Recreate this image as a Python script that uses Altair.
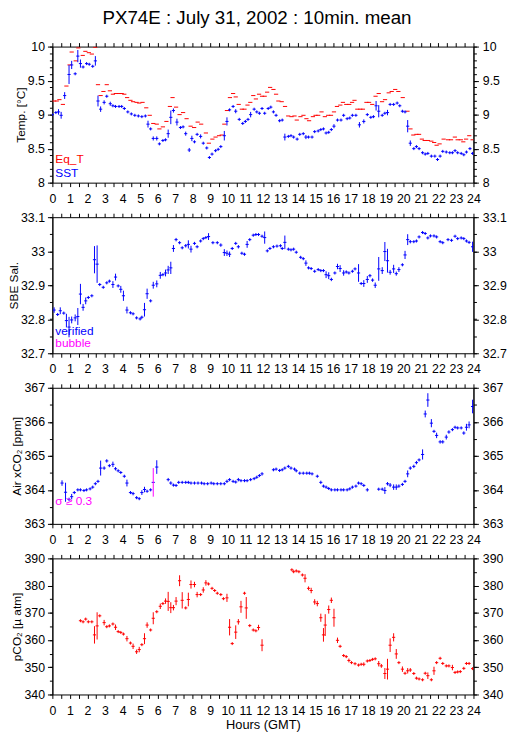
import altair as alt
import pandas as pd

FONT = "Liberation Sans"
RED, BLUE, MAG = "#ff0000", "#0000ff", "#ff00ff"

TITLE = "PX74E : July 31, 2002 : 10min. mean"
HOURS = [i * 0.5 for i in range(49)]

# ---------------- data (hour, value, half error bar) ----------------
sst = [(0.0,9.00,0),(0.2,9.03,0),(0.35,9.04,0.04),(0.5,8.99,0.05),(0.7,9.28,0.05),(0.95,9.59,0.14),(1.1,9.73,0.06),(1.3,9.60,0),(1.45,9.86,0.09),(1.6,9.75,0.06),(1.75,9.70,0),(1.95,9.75,0),(2.1,9.74,0),(2.3,9.71,0),(2.45,9.79,0.07),(2.6,9.20,0.08),(2.75,9.08,0.04),(2.95,9.18,0.03),(3.1,9.27,0),(3.3,9.16,0.03),(3.45,9.13,0),(3.6,9.12,0.02),(3.8,9.12,0),(3.95,9.12,0),(4.1,9.09,0),(4.3,9.04,0.02),(4.5,9.01,0),(4.7,8.99,0),(4.9,8.98,0),(5.1,8.97,0),(5.3,8.98,0),(5.45,8.86,0.05),(5.6,8.79,0),(5.75,8.65,0.03),(5.95,8.65,0.03),(6.1,8.57,0.02),(6.3,8.62,0),(6.45,8.63,0),(6.6,8.72,0.06),(6.75,8.96,0.1),(6.9,9.06,0.03),(7.1,8.89,0.05),(7.3,8.81,0),(7.45,8.82,0),(7.6,8.72,0.03),(7.8,8.48,0.03),(7.95,8.65,0.04),(8.1,8.60,0.02),(8.25,8.71,0),(8.45,8.68,0.03),(8.6,8.58,0.02),(8.8,8.51,0.02),(8.95,8.37,0.02),(9.1,8.42,0),(9.3,8.47,0),(9.45,8.49,0),(9.6,8.53,0.02),(9.8,8.69,0.07),(9.95,8.90,0.06),(10.1,9.07,0),(10.3,9.12,0),(10.45,9.05,0.03),(10.65,8.93,0.02),(10.85,8.87,0.02),(11.0,8.90,0),(11.15,8.93,0),(11.3,9.00,0.04),(11.5,9.08,0),(11.65,9.04,0),(11.8,9.02,0),(11.95,9.09,0),(12.1,9.02,0.02),(12.3,9.09,0),(12.45,9.11,0.02),(12.6,9.04,0),(12.75,8.99,0),(12.95,8.91,0),(13.1,8.92,0),(13.25,8.67,0.05),(13.45,8.68,0),(13.6,8.69,0.02),(13.75,8.67,0),(13.95,8.64,0),(14.1,8.71,0),(14.3,8.72,0),(14.45,8.67,0.03),(14.6,8.67,0),(14.8,8.67,0),(14.95,8.75,0),(15.15,8.76,0),(15.3,8.78,0),(15.45,8.79,0),(15.6,8.73,0.02),(15.75,8.74,0),(15.9,8.78,0),(16.05,8.83,0.03),(16.25,8.92,0),(16.45,8.92,0),(16.6,8.99,0),(16.8,8.94,0.02),(16.95,8.95,0),(17.1,8.99,0),(17.3,8.99,0),(17.5,8.85,0.04),(17.75,8.90,0.03),(17.95,9.00,0),(18.15,8.96,0),(18.3,8.97,0),(18.45,9.13,0.07),(18.6,9.05,0.09),(18.8,8.99,0.02),(18.95,9.02,0),(19.1,9.03,0.04),(19.25,9.15,0),(19.45,9.15,0),(19.65,9.17,0),(19.8,9.13,0.02),(19.95,9.05,0),(20.1,9.04,0.02),(20.25,8.83,0.09),(20.4,8.58,0.04),(20.6,8.50,0),(20.75,8.53,0),(20.9,8.50,0),(21.1,8.44,0),(21.25,8.42,0),(21.4,8.43,0),(21.6,8.39,0),(21.8,8.39,0),(21.95,8.34,0.02),(22.1,8.39,0.02),(22.25,8.46,0),(22.45,8.45,0),(22.65,8.44,0),(22.8,8.44,0),(22.95,8.47,0),(23.1,8.44,0),(23.3,8.43,0),(23.45,8.41,0),(23.6,8.45,0),(23.8,8.50,0),(23.95,8.43,0.02)]

eq_t = [(0.1,9.20),(0.25,9.20),(0.4,9.22),(0.6,9.15),(0.8,9.42),(0.98,9.73),(1.1,9.92),(1.33,9.79),(1.48,9.98),(1.73,9.87),(1.88,9.93),(2.08,9.91),(2.25,9.89),(2.44,9.99),(2.6,9.44),(2.75,9.28),(2.91,9.34),(3.1,9.44),(3.28,9.35),(3.45,9.30),(3.62,9.31),(3.8,9.31),(3.95,9.31),(4.1,9.30),(4.26,9.25),(4.45,9.21),(4.6,9.19),(4.8,9.18),(4.95,9.17),(5.14,9.18),(5.35,9.10),(5.55,8.99),(5.75,8.87),(5.95,8.86),(6.1,8.79),(6.3,8.82),(6.5,8.90),(6.7,9.12),(6.85,9.25),(7.05,9.11),(7.25,9.00),(7.45,9.03),(7.65,8.94),(7.88,8.83),(8.08,8.81),(8.28,8.89),(8.48,8.86),(8.75,8.73),(8.92,8.58),(9.12,8.64),(9.3,8.67),(9.5,8.69),(9.65,8.70),(9.8,8.86),(9.95,9.06),(10.12,9.25),(10.3,9.31),(10.45,9.26),(10.62,9.15),(10.8,9.08),(10.95,9.08),(11.12,9.14),(11.28,9.18),(11.45,9.28),(11.6,9.23),(11.78,9.30),(11.95,9.27),(12.1,9.27),(12.24,9.33),(12.41,9.40),(12.6,9.37),(12.75,9.30),(12.88,9.20),(13.07,9.19),(13.26,9.12),(13.44,8.98),(13.63,8.97),(13.8,8.98),(13.93,8.92),(14.14,8.97),(14.31,8.99),(14.48,8.94),(14.63,8.91),(14.85,8.97),(15.0,8.99),(15.15,8.99),(15.34,9.04),(15.53,8.97),(15.72,8.99),(15.88,8.99),(16.05,9.04),(16.22,9.12),(16.41,9.14),(16.56,9.18),(16.75,9.15),(16.92,9.15),(17.08,9.18),(17.22,9.21),(17.38,9.08),(17.55,9.08),(17.7,9.08),(17.9,9.18),(18.05,9.18),(18.23,9.15),(18.42,9.27),(18.6,9.31),(18.79,9.19),(18.96,9.22),(19.17,9.32),(19.34,9.34),(19.54,9.37),(19.72,9.34),(19.97,9.25),(20.24,9.05),(20.41,8.79),(20.57,8.70),(20.75,8.71),(20.9,8.71),(21.06,8.64),(21.22,8.62),(21.4,8.62),(21.6,8.61),(21.76,8.59),(21.9,8.55),(22.07,8.57),(22.3,8.64),(22.55,8.63),(22.72,8.63),(22.94,8.67),(23.1,8.63),(23.28,8.63),(23.42,8.60),(23.58,8.64),(23.76,8.69),(23.95,8.63)]

sal = [(0.1,32.827,0.008),(0.3,32.814,0),(0.45,32.825,0.01),(0.65,32.818,0),(0.8,32.796,0.02),(0.95,32.777,0.03),(1.1,32.798,0.01),(1.3,32.804,0.01),(1.45,32.808,0.025),(1.6,32.874,0.03),(1.75,32.835,0.01),(1.9,32.854,0.01),(2.05,32.864,0),(2.25,32.869,0),(2.4,32.975,0.04),(2.55,32.962,0.055),(2.7,32.902,0),(2.9,32.894,0),(3.1,32.907,0),(3.25,32.912,0),(3.45,32.902,0.01),(3.6,32.924,0.01),(3.75,32.898,0),(3.9,32.888,0.01),(4.05,32.869,0.015),(4.25,32.827,0.01),(4.45,32.819,0),(4.6,32.816,0),(4.8,32.804,0),(5.0,32.801,0),(5.1,32.806,0),(5.25,32.828,0.02),(5.4,32.875,0.015),(5.6,32.854,0),(5.75,32.900,0.01),(5.95,32.904,0.01),(6.15,32.929,0.01),(6.3,32.931,0),(6.45,32.936,0.01),(6.6,32.945,0.012),(6.75,32.951,0.018),(6.9,33.008,0.01),(7.05,33.034,0.005),(7.25,33.025,0),(7.4,33.010,0),(7.6,33.016,0.005),(7.75,33.020,0.012),(7.9,33.006,0.01),(8.1,33.023,0),(8.25,33.013,0),(8.45,33.030,0),(8.6,33.037,0),(8.75,33.040,0),(8.9,33.043,0.01),(9.15,33.025,0),(9.4,33.025,0),(9.6,33.018,0.005),(9.8,32.996,0.01),(9.95,32.994,0.008),(10.1,32.991,0.008),(10.25,33.008,0),(10.45,33.023,0),(10.6,33.013,0.005),(10.8,32.994,0),(10.95,32.991,0),(11.1,33.020,0.01),(11.25,33.034,0),(11.45,33.047,0),(11.6,33.049,0),(11.75,33.049,0),(11.95,33.044,0),(12.1,33.040,0.018),(12.25,33.001,0),(12.4,33.008,0),(12.6,33.013,0),(12.8,33.015,0.004),(13.0,33.016,0.004),(13.1,33.008,0),(13.25,33.026,0.02),(13.45,33.006,0),(13.6,33.004,0),(13.75,33.006,0),(13.9,32.997,0),(14.15,32.982,0),(14.3,32.978,0),(14.45,32.965,0.008),(14.6,32.951,0),(14.75,32.949,0),(14.95,32.941,0),(15.15,32.946,0),(15.3,32.943,0),(15.45,32.943,0),(15.6,32.931,0.01),(15.75,32.928,0.01),(15.9,32.917,0.005),(16.1,32.936,0),(16.25,32.955,0.008),(16.4,32.949,0.01),(16.6,32.936,0.008),(16.75,32.939,0),(16.9,32.936,0),(17.1,32.941,0),(17.25,32.948,0.004),(17.45,32.936,0.026),(17.6,32.905,0),(17.75,32.905,0.01),(17.95,32.917,0.01),(18.1,32.928,0.005),(18.25,32.915,0.005),(18.4,32.900,0.008),(18.6,32.948,0.035),(18.8,32.943,0.01),(18.95,32.999,0.028),(19.1,32.972,0.035),(19.25,32.938,0.007),(19.45,32.948,0.012),(19.6,32.934,0.006),(19.75,32.946,0.007),(19.95,32.960,0),(20.1,32.989,0.012),(20.25,33.034,0.016),(20.4,33.028,0.005),(20.6,33.028,0),(20.75,33.030,0),(20.9,33.042,0),(21.1,33.055,0),(21.25,33.052,0),(21.4,33.039,0),(21.55,33.045,0),(21.75,33.045,0),(21.9,33.042,0.004),(22.1,33.028,0.004),(22.25,33.025,0),(22.55,33.034,0),(22.75,33.032,0.004),(22.95,33.044,0),(23.1,33.037,0),(23.3,33.039,0),(23.45,33.037,0),(23.6,33.030,0),(23.75,33.026,0.004),(23.95,33.013,0.015)]

air = [(0.55,364.20,0.08),(0.75,363.93,0.28),(0.95,363.72,0.05),(1.1,363.80,0.08),(1.25,363.92,0),(1.45,364.00,0),(1.6,364.00,0),(1.8,363.98,0),(1.95,364.00,0),(2.15,364.03,0),(2.3,364.08,0),(2.45,364.18,0),(2.6,364.25,0),(2.75,364.64,0.22),(2.95,364.64,0.05),(3.1,364.85,0.05),(3.25,364.71,0),(3.45,364.75,0.08),(3.6,364.62,0.05),(3.75,364.56,0),(3.9,364.51,0),(4.1,364.40,0),(4.25,364.20,0.1),(4.45,363.92,0),(4.6,363.89,0.05),(4.8,363.77,0),(4.95,363.74,0),(5.1,363.92,0.07),(5.25,364.01,0.08),(5.4,363.96,0),(5.6,364.00,0),(5.95,364.67,0.2),(6.6,364.30,0.05),(6.75,364.20,0.05),(6.9,364.14,0),(7.05,364.13,0),(7.2,364.22,0),(7.4,364.22,0),(7.6,364.22,0),(7.75,364.22,0),(7.9,364.20,0),(8.1,364.20,0),(8.3,364.20,0),(8.5,364.20,0),(8.65,364.18,0),(8.85,364.18,0),(9.05,364.20,0.04),(9.2,364.18,0),(9.4,364.18,0),(9.6,364.18,0),(9.8,364.18,0),(9.95,364.25,0.05),(10.1,364.30,0.04),(10.3,364.25,0),(10.45,364.23,0),(10.6,364.30,0.05),(10.75,364.27,0),(10.95,364.27,0),(11.1,364.27,0),(11.3,364.30,0),(11.5,364.33,0),(11.65,364.37,0),(11.8,364.42,0),(11.95,364.47,0.05),(12.6,364.59,0),(12.75,364.61,0),(12.95,364.57,0),(13.1,364.59,0),(13.25,364.64,0),(13.45,364.69,0),(13.6,364.64,0),(13.8,364.61,0),(13.9,364.56,0),(14.1,364.49,0),(14.3,364.49,0),(14.5,364.49,0),(14.65,364.49,0),(14.8,364.47,0),(15.1,364.40,0.04),(15.3,364.22,0.05),(15.45,364.11,0),(15.6,364.08,0),(15.75,364.04,0),(15.9,364.00,0),(16.1,364.00,0),(16.25,364.00,0),(16.45,364.00,0),(16.6,364.00,0),(16.8,364.00,0),(16.95,364.03,0),(17.1,364.08,0),(17.3,364.11,0.04),(17.45,364.20,0),(17.6,364.18,0),(17.75,364.13,0.04),(17.95,364.00,0.05),(18.6,364.02,0),(18.8,364.02,0),(18.95,363.98,0.1),(19.1,364.18,0.05),(19.25,364.14,0.06),(19.45,364.08,0.08),(19.6,364.08,0.08),(19.75,364.11,0.05),(19.95,364.16,0),(20.1,364.25,0),(20.25,364.47,0.1),(20.4,364.64,0.05),(20.6,364.69,0.05),(20.75,364.80,0.05),(20.9,364.88,0),(21.1,365.04,0.15),(21.25,366.23,0.1),(21.4,366.64,0.2),(21.6,365.96,0.12),(21.75,365.72,0.03),(21.9,365.60,0.08),(22.1,365.41,0.05),(22.25,365.41,0.05),(22.45,365.55,0.07),(22.6,365.70,0.05),(22.8,365.77,0),(22.95,365.84,0),(23.1,365.82,0),(23.3,365.82,0),(23.45,365.67,0.05),(23.6,365.84,0.1),(23.75,365.91,0.1),(23.95,366.45,0.2)]

air_sigma = [(5.75,364.22,0.42)]

pco2 = [(1.6,367.1,0.5),(1.75,366.7,0),(1.9,367.7,0),(2.05,366.7,0),(2.25,366.7,0),(2.4,361.9,3.2),(2.55,365.2,5),(2.7,368.9,0.5),(2.95,366.4,1),(3.1,364.9,0),(3.25,365.2,0),(3.45,365.9,0.5),(3.6,364.7,1),(3.75,363.1,0),(3.9,362.8,0),(4.05,362.2,0),(4.25,360.5,1),(4.45,358.9,0),(4.6,357.7,1),(4.8,355.7,0.8),(4.95,356.5,1),(5.1,358.3,0),(5.25,360.5,2),(5.4,365.5,1),(5.6,363.7,0),(5.75,368.0,2.2),(5.95,370.4,0.5),(6.15,372.4,1),(6.3,373.4,0),(6.45,374.3,1),(6.6,374.2,3.5),(6.75,371.9,2),(6.9,371.9,1),(7.05,374.3,1.5),(7.25,381.8,2),(7.4,374.6,3),(7.6,371.8,0),(7.75,374.9,2.5),(7.9,380.4,1.5),(8.1,380.4,1),(8.25,376.7,1),(8.45,376.7,0.5),(8.6,378.4,1),(8.75,381.0,1),(8.9,380.6,0.5),(9.1,379.0,0),(9.25,378.2,0),(9.4,377.2,0),(9.6,376.7,0),(9.75,375.2,0.5),(9.95,375.5,1.5),(10.1,364.7,3),(10.25,358.7,0),(10.45,362.9,2.5),(10.6,366.7,1),(10.75,372.2,2.2),(10.95,377.2,0.5),(11.05,371.8,4),(11.25,365.3,0),(11.45,363.7,0),(11.6,363.4,0),(11.75,364.6,1),(11.95,358.1,2.2),(13.65,385.8,0),(13.75,385.1,0),(13.9,385.4,0),(14.05,385.1,0),(14.25,383.9,0.5),(14.4,382.7,1.5),(14.6,379.0,0.7),(14.75,378.2,1),(14.95,374.0,1),(15.1,373.4,1),(15.3,368.2,1.5),(15.45,361.9,2.5),(15.55,365.5,4),(15.75,371.2,1.5),(15.9,374.6,1),(16.05,368.2,3.3),(16.25,359.9,1),(16.4,357.7,0),(16.6,354.3,0),(16.75,353.9,0),(16.9,352.5,0.7),(17.05,351.7,0),(17.25,351.3,0),(17.45,350.8,0.5),(17.6,351.1,0),(17.75,351.1,0.7),(17.95,352.3,0),(18.1,352.5,0),(18.25,352.9,0),(18.4,353.1,0.5),(18.6,351.3,1),(18.75,350.5,0.7),(18.95,347.7,2),(19.1,349.3,3.8),(19.25,358.1,2.5),(19.45,361.0,1.5),(19.6,354.9,1.8),(19.75,351.7,0.5),(19.95,349.3,1),(20.1,347.8,0.5),(20.25,348.7,1),(20.4,349.0,0.7),(20.6,347.7,0.5),(20.75,346.0,0),(20.9,345.7,0),(21.1,345.4,0),(21.25,347.8,0.5),(21.4,346.9,1.2),(21.6,345.4,0),(21.75,348.7,1.5),(21.9,351.7,0.5),(22.1,353.3,0.5),(22.25,351.4,0),(22.45,350.5,0),(22.6,350.5,0),(22.8,349.9,1),(22.95,348.1,0),(23.1,348.3,0),(23.25,348.4,0.5),(23.45,349.6,0.5),(23.6,351.4,0.5),(23.75,351.4,0.5),(23.95,349.5,0)]

# ---------------- helpers ----------------
W, H = 427, 138
XS = alt.Scale(domain=[0, 24], nice=False, zero=False)


def frame(rows, stub, hw):
    df = pd.DataFrame(rows, columns=["t", "v", "e"][: len(rows[0])])
    if "e" not in df:
        df["e"] = 0.0
    e = df["e"].clip(lower=stub)
    df["lo"] = df["v"] - e
    df["hi"] = df["v"] + e
    df["x0"] = df["t"] - hw
    df["x1"] = df["t"] + hw
    return df


def x_axis(orient, xtitle=None):
    kw = dict(orient=orient, values=HOURS, tickSize=4, tickColor="black",
              domainColor="black", grid=False, labelFlush=False, labelOverlap=False,
              labelBound=False, title=xtitle)
    if orient == "bottom":
        kw.update(labelExpr="datum.value % 1 == 0 ? format(datum.value, 'd') : ''",
                  labelFont=FONT, labelFontSize=12.5, labelColor="black",
                  labelPadding=6, labelAngle=0)
        if xtitle:
            kw.update(titleFont=FONT, titleFontSize=13, titleFontWeight="normal",
                      titleColor="black", titlePadding=2)
    else:
        kw.update(labels=False)
    return alt.Axis(**kw)


def y_axis(orient, values, major, fmt, ytitle=None):
    kw = dict(orient=orient, values=values, grid=False, tickColor="black",
              domainColor="black", tickSize=5 if major else 3, labels=major,
              labelFlush=False, labelOverlap=False, labelBound=False, title=ytitle)
    if major:
        kw.update(format=fmt, labelFont=FONT, labelFontSize=12.5, labelColor="black",
                  labelPadding=3 if orient == "left" else 4)
    if ytitle:
        kw.update(titleFont=FONT, titleFontSize=12, titleFontWeight="normal",
                  titleColor="black", titlePadding=0)
    return alt.Axis(**kw)


def panel(series, dom, major, minor, fmt, ytitle, texts, xtitle=None):
    ys = alt.Scale(domain=dom, nice=False, zero=False)
    base = series[0][0]
    layers = [
        alt.Chart(base).mark_point(opacity=0, size=1).encode(
            x=alt.X("t:Q", scale=XS, axis=x_axis("bottom", xtitle)),
            y=alt.Y("v:Q", scale=ys, axis=y_axis("left", major, True, fmt, ytitle))),
        alt.Chart(base).mark_point(opacity=0, size=1).encode(
            x=alt.X("t:Q", scale=XS, axis=x_axis("top")),
            y=alt.Y("v:Q", scale=ys, axis=y_axis("right", major, True, fmt))),
        alt.Chart(base).mark_point(opacity=0, size=1).encode(
            x=alt.X("t:Q", scale=XS, axis=None),
            y=alt.Y("v:Q", scale=ys, axis=y_axis("left", minor, False, fmt))),
        alt.Chart(base).mark_point(opacity=0, size=1).encode(
            x=alt.X("t:Q", scale=XS, axis=None),
            y=alt.Y("v:Q", scale=ys, axis=y_axis("right", minor, False, fmt))),
    ]
    for df, hcol, vcol in series:
        layers.append(alt.Chart(df).mark_rule(color=hcol, strokeWidth=1, clip=True).encode(
            x=alt.X("x0:Q", scale=XS, axis=None), x2="x1:Q",
            y=alt.Y("v:Q", scale=ys, axis=None)))
        if vcol:
            layers.append(alt.Chart(df).mark_rule(color=vcol, strokeWidth=1, clip=True).encode(
                x=alt.X("t:Q", scale=XS, axis=None),
                y=alt.Y("lo:Q", scale=ys, axis=None), y2="hi:Q"))
    for txt, col, px, py in texts:
        layers.append(alt.Chart(pd.DataFrame({"s": [txt]})).mark_text(
            align="left", baseline="alphabetic", font=FONT, fontSize=12, color=col
        ).encode(text="s:N", x=alt.value(px), y=alt.value(py)))
    return alt.layer(*layers).resolve_axis(x="independent", y="independent").properties(
        width=W, height=H)


p1 = panel(
    [(frame(eq_t, 0.0, 0.12), RED, None), (frame(sst, 0.022, 0.09), BLUE, BLUE)],
    [8, 10], [8, 8.5, 9, 9.5, 10], [8 + 0.1 * i for i in range(21)], "~g",
    "Temp. [°C]", [("Eq_T", RED, 3, 118), ("SST", BLUE, 3, 132)])

p2 = panel(
    [(frame(sal, 0.0045, 0.09), BLUE, BLUE)],
    [32.7, 33.1], [32.7, 32.8, 32.9, 33.0, 33.1], [32.7 + 0.05 * i for i in range(9)], "~g",
    "SBE Sal.", [("verified", BLUE, 3, 119), ("bubble", MAG, 3, 132)])

p3 = panel(
    [(frame(air, 0.045, 0.09), BLUE, BLUE), (frame(air_sigma, 0.045, 0.09), BLUE, MAG)],
    [363, 367], [363, 364, 365, 366, 367], [363 + 0.5 * i for i in range(9)], "d",
    "Air xCO₂ [ppm]", [("σ ≥ 0.3", MAG, 3, 119)])

p4 = panel(
    [(frame(pco2, 0.55, 0.09), RED, RED)],
    [340, 390], [340, 350, 360, 370, 380, 390], [340 + 5 * i for i in range(11)], "d",
    "pCO₂ [µ atm]", [], xtitle="Hours (GMT)")

chart = alt.vconcat(p1, p2, p3, p4, spacing=5).properties(
    title=alt.TitleParams(TITLE, font=FONT, fontSize=19, fontWeight="normal",
                          color="black", anchor="middle", offset=12),
    padding={"left": -1, "top": -4, "right": 0, "bottom": 0},
).configure_view(stroke="transparent")

chart.save("out.html", embed_options={"renderer": "svg", "actions": False})
